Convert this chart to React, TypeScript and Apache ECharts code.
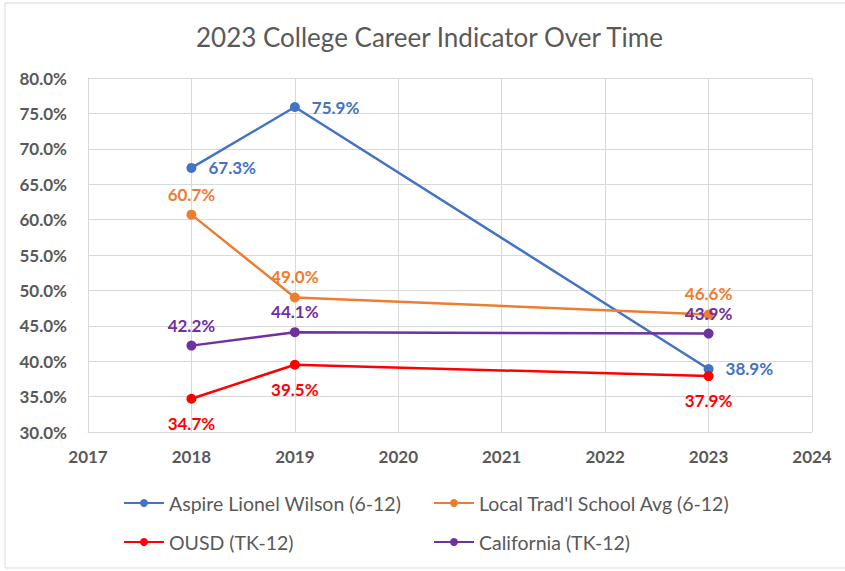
import React, { useEffect, useRef } from "react";
import * as echarts from "echarts";

const TITLE = "2023 College Career Indicator Over Time";
const years = [2018, 2019, 2023];
const seriesNames = [
  "Aspire Lionel Wilson (6-12)",
  "Local Trad'l School Avg (6-12)",
  "OUSD (TK-12)",
  "California (TK-12)",
];
const aspire = [67.3, 75.9, 38.9];
const localAvg = [60.7, 49.0, 46.6];
const ousd = [34.7, 39.5, 37.9];
const california = [42.2, 44.1, 43.9];
const colors = ["#4472C4", "#ED7D31", "#FF0000", "#7030A0"];
const labelPositions = ["right", "top", "bottom", "top"];
const labelDistances = [12, 7, 11, 7];

const FONT = "Lato, 'Liberation Sans', sans-serif";
const GRAY = "#595959";

export default function App() {
  const ref = useRef<HTMLDivElement>(null);
  useEffect(() => {
    if (!ref.current) return;
    const chart = echarts.init(ref.current, undefined, { renderer: "svg" });
    const values = [aspire, localAvg, ousd, california];
    const series = values.map((vals, i) => ({
      name: seriesNames[i],
      type: "line",
      data: years.map((y, j) => [y, vals[j]]),
      symbol: "circle",
      symbolSize: 10,
      lineStyle: { color: colors[i], width: 2.5 },
      itemStyle: { color: colors[i] },
      label: {
        show: true,
        position: labelPositions[i],
        distance: labelDistances[i],
        formatter: (p: any) => p.value[1].toFixed(1) + "%",
        color: colors[i],
        fontWeight: "bold",
        fontSize: 17,
        fontFamily: FONT,
      },
      emphasis: { disabled: true },
    }));
    const legendCommon = {
      orient: "vertical",
      top: 493,
      padding: 0,
      itemWidth: 40,
      itemHeight: 10,
      itemGap: 19,
      textStyle: { color: GRAY, fontSize: 19.5, fontFamily: FONT },
    };
    chart.setOption({
      animation: false,
      backgroundColor: "#ffffff",
      textStyle: { fontFamily: FONT },
      title: {
        text: TITLE,
        left: 196,
        top: 24,
        padding: 0,
        textStyle: { color: GRAY, fontSize: 26, fontWeight: "normal", fontFamily: FONT },
      },
      graphic: [
        {
          type: "rect",
          shape: { x: 5, y: 3, width: 850, height: 565 },
          style: { fill: "none", stroke: "#d9d9d9", lineWidth: 1 },
          silent: true,
        },
      ],
      legend: [
        { ...legendCommon, left: 123, data: [seriesNames[0], seriesNames[2]] },
        { ...legendCommon, left: 433, data: [seriesNames[1], seriesNames[3]] },
      ],
      grid: { left: 88, top: 78, width: 724, height: 354, containLabel: false },
      xAxis: {
        type: "value",
        min: 2017,
        max: 2024,
        interval: 1,
        axisLine: { show: true, lineStyle: { color: "#d9d9d9" } },
        axisTick: { show: false },
        splitLine: { show: true, lineStyle: { color: "#d9d9d9", width: 1 } },
        axisLabel: {
          color: GRAY,
          fontWeight: "bold",
          fontSize: 17,
          margin: 16,
          fontFamily: FONT,
          formatter: (v: number) => String(v),
        },
      },
      yAxis: {
        type: "value",
        min: 30,
        max: 80,
        interval: 5,
        axisLine: { show: true, lineStyle: { color: "#d9d9d9" } },
        axisTick: { show: false },
        splitLine: { show: true, lineStyle: { color: "#d9d9d9", width: 1 } },
        axisLabel: {
          color: GRAY,
          fontWeight: "bold",
          fontSize: 17,
          margin: 21,
          fontFamily: FONT,
          formatter: (v: number) => v.toFixed(1) + "%",
        },
      },
      series,
    });
    return () => chart.dispose();
  }, []);
  return (
    <div
      ref={ref}
      style={{ position: "absolute", left: 0, top: 0, width: 845, height: 571, background: "#fff" }}
    />
  );
}
